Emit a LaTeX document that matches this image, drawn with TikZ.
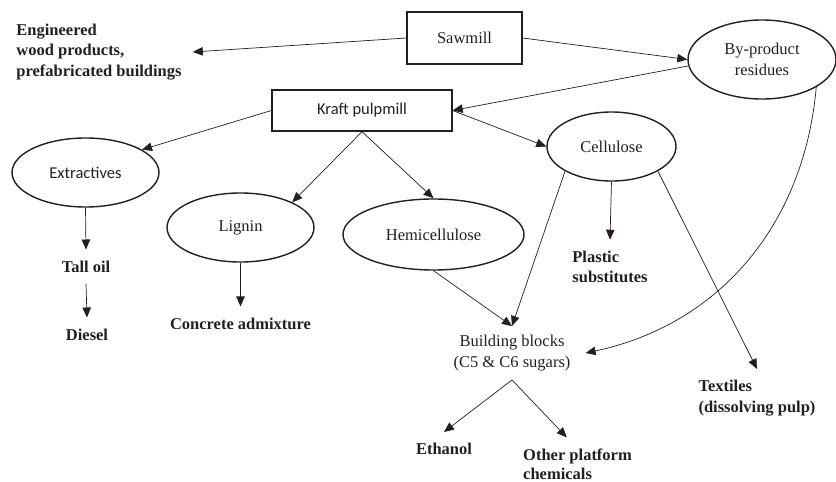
\documentclass[tikz,border=0pt]{standalone}
\usepackage{fontspec}
\setmainfont{Liberation Serif}
\newfontfamily\calibri{Carlito}
\usetikzlibrary{arrows.meta,shapes.geometric}
\definecolor{ink}{RGB}{35,31,32}
\begin{document}
\begin{tikzpicture}[x=1pt,y=-1pt,>={Triangle[length=10pt,width=8.5pt]},
 every node/.style={text=ink,font=\fontsize{16.5}{20.5}\selectfont},
 mill/.style={rectangle,draw=ink,line width=1.3pt},
 part/.style={ellipse,draw=ink,line width=1.4pt,inner sep=0pt},
 prod/.style={font=\fontsize{16.5}{20.5}\selectfont\bfseries,align=left,inner sep=11pt},
 link/.style={->,draw=ink,line width=0.7pt}]
\useasboundingbox (0,0) rectangle (836,482);
\node[mill,minimum width=115,minimum height=52] (saw) at (464.5,38) {Sawmill};
\node[mill,minimum width=180,minimum height=41,font=\fontsize{16.5}{20.5}\calibri] (kraft) at (362,110.5) {Kraft pulpmill};
\node[part,minimum width=148,minimum height=79,align=center] (byp) at (762,59.5) {By-product\\residues};
\node[part,minimum width=129,minimum height=69] (cell) at (611.5,146.5) {Cellulose};
\node[part,minimum width=147,minimum height=69,font=\fontsize{16.5}{20.5}\calibri] (ext) at (85.5,172.5) {Extractives};
\node[part,minimum width=147,minimum height=69] (lig) at (240.5,227.5) {Lignin};
\node[part,minimum width=181,minimum height=71] (hemi) at (433.5,234.5) {Hemicellulose};
\node[align=center,inner xsep=15pt,inner ysep=9pt] (bb) at (512,353) {Building blocks\\(C5 \& C6 sugars)};
\node[prod] (eng) at (99,52) {Engineered\\wood products,\\prefabricated buildings};
\node[prod] (tall) at (86,266.5) {Tall oil};
\node[prod] (dies) at (87,334.5) {Diesel};
\node[prod] (conc) at (240.5,323.5) {Concrete admixture};
\node[prod] (plast) at (610,267) {Plastic\\substitutes};
\node[prod] (tex) at (757,398) {Textiles\\(dissolving pulp)};
\node[prod] (eth) at (444,449) {Ethanol};
\node[prod,font=\fontsize{16.5}{19}\selectfont\bfseries] (oth) at (577.5,464) {Other platform\\chemicals};
\draw[link] (saw.west)--(eng.east); \draw[link] (saw.east)--(byp.west);
\draw[link] (byp.185)--(kraft.east);
\draw[link] (kraft.west)--(ext.22); \draw[link] (kraft.east)--(cell.west);
\draw[link] (kraft.south)--(lig.26); \draw[link] (kraft.south)--(hemi.north);
\draw[link] (ext.south)--(tall.north); \draw[link] (tall.south)--(dies.north);
\draw[link] (lig.south)--(conc.north);
\draw[link] (cell.south)--(plast.north); \draw[link] (cell.208)--(bb.north);
\draw[link] (cell.-28)--(tex.north); \draw[link] (hemi.south)--(bb.north);
\draw[link] (byp.-27) to[out=-95,in=12] (bb.east);
\draw[link] (bb.south)--(eth.north); \draw[link] (bb.south)--(oth.112);
\end{tikzpicture}
\end{document}
